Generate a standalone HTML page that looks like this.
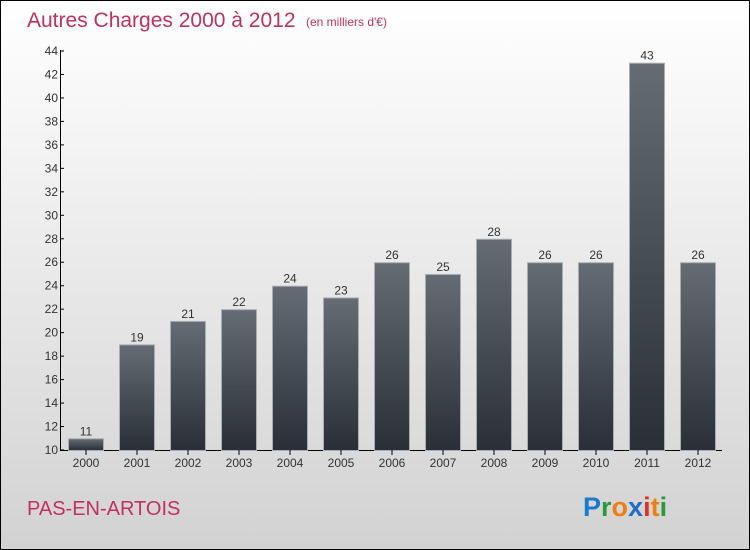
<!DOCTYPE html>
<html><head><meta charset="utf-8"><style>
body{margin:0}
#c{position:relative;width:748px;height:548px;border:1px solid #000;background:linear-gradient(#fff,#f2f2f2 30%,#d2d2d2);overflow:hidden;font-family:"Liberation Sans",sans-serif}
</style></head><body>
<div id="c">
<svg width="748" height="548" id="svg">
<defs><linearGradient id="bg" x1="0" y1="0" x2="0" y2="1"><stop offset="0" stop-color="#656c74"/><stop offset="1" stop-color="#2a2f37"/></linearGradient></defs>
<text x="26" y="26" font-size="21" fill="#c2305f">Autres Charges 2000 à 2012</text>
<text x="305" y="25" font-size="12" fill="#c2305f">(en milliers d'€)</text>
<text x="26" y="514" font-size="20" fill="#c2305f">PAS-EN-ARTOIS</text>
<g font-size="27" font-weight="bold">
<text x="582" y="515"><tspan fill="#1a7ad0">P</tspan><tspan fill="#2a9a3a">r</tspan><tspan fill="#f07d10">o</tspan><tspan fill="#1a6fc8">x</tspan><tspan fill="#e03020">i</tspan><tspan fill="#f07d10">t</tspan><tspan fill="#2a9a3a">i</tspan></text>
</g>
</svg>
</div>
<script>
const years=["2000","2001","2002","2003","2004","2005","2006","2007","2008","2009","2010","2011","2012"];
const values=[11,19,21,22,24,23,26,25,28,26,26,43,26];
const yTicks=[10,12,14,16,18,20,22,24,26,28,30,32,34,36,38,40,42,44];
const svg=document.getElementById('svg');
const NS='http://www.w3.org/2000/svg';
const y=v=>449-(v-10)*(399/34);
const x=i=>67+i*51;
function mk(t,a){const e=document.createElementNS(NS,t);for(const k in a)e.setAttribute(k,a[k]);svg.appendChild(e);return e;}
const ya=mk('line',{x1:59.5,y1:49,x2:59.5,y2:450,stroke:'#000'});


const xa=mk('line',{x1:59,y1:449.5,x2:721,y2:449.5,stroke:'#000'});


yTicks.forEach(v=>{
 const t=mk('line',{x1:59,x2:63,y1:y(v),y2:y(v),stroke:'#000'});
 
 
 const l=mk('text',{x:57,y:y(v)+4,'text-anchor':'end','font-size':12,fill:'#333'});
 l.textContent=v;
 
 
});
values.forEach((v,i)=>{
 const b=mk('rect',{x:x(i)+0.5,y:y(v)+0.5,width:35,height:449-y(v),fill:'url(#bg)',stroke:'#a8adb3','stroke-width':1});
 
 
 const l=mk('text',{x:x(i)+18,y:y(v)-3,'text-anchor':'middle','font-size':12,fill:'#333'});
 l.textContent=v;
 
 
 const t=mk('line',{x1:x(i)+18,x2:x(i)+18,y1:449,y2:454,stroke:'#000'});
 
 
 const yl=mk('text',{x:x(i)+18,y:466,'text-anchor':'middle','font-size':12,fill:'#333'});
 yl.textContent=years[i];
 
 
});
</script>
</body></html>
